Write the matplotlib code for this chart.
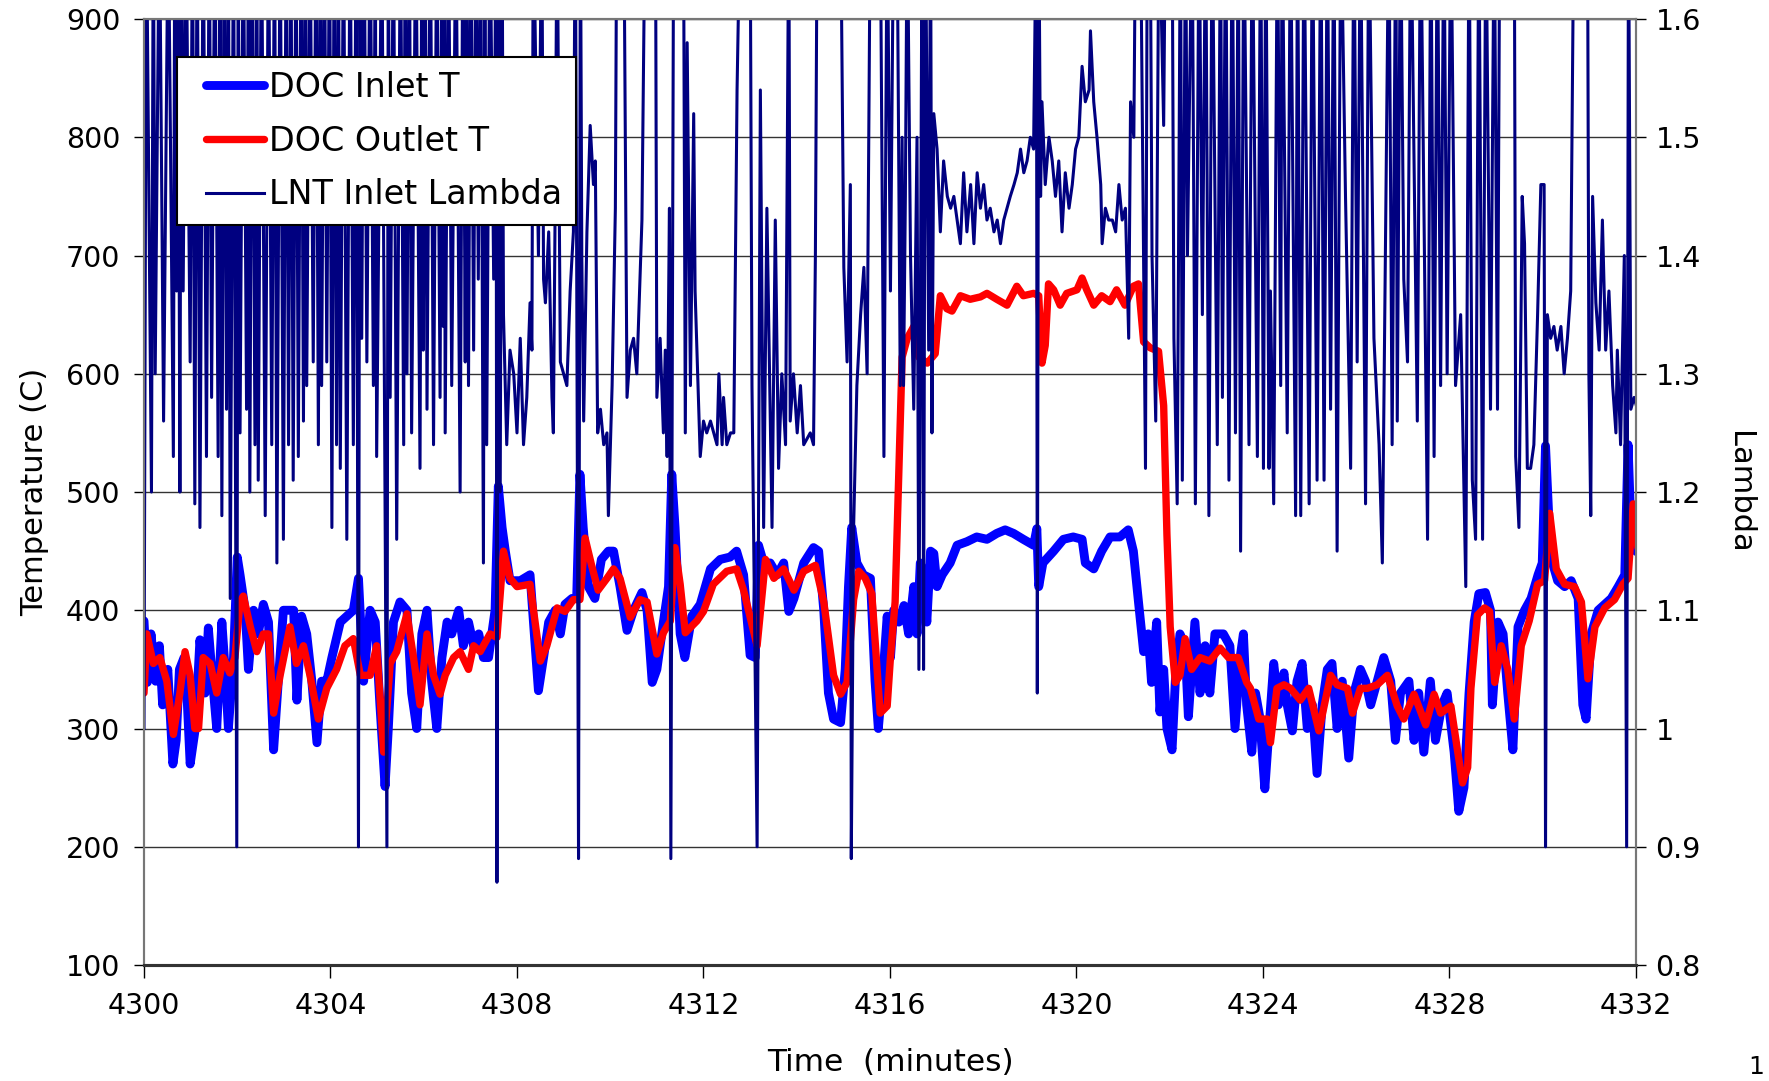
"""DOC inlet/outlet temperature and LNT inlet lambda vs time (twin y axes)."""
import numpy as np
import matplotlib
matplotlib.use("Agg")
import matplotlib.pyplot as plt
import matplotlib.ticker as ticker
from matplotlib.legend_handler import HandlerLine2D

plt.rcParams.update({
    "font.family": ["DejaVu Sans"],
    "font.size": 20.5,
})

T0 = 4300  # minutes; series times below are minutes after T0

# DOC inlet temperature (minutes after T0, deg C)
doc_inlet = [
    (0.00, 391), (0.07, 339), (0.15, 380), (0.25, 340), (0.33, 370), (0.40, 320), (0.51, 350), (0.62, 270),
    (0.69, 290), (0.76, 350), (0.86, 360), (0.92, 330), (0.99, 270), (1.10, 300), (1.20, 375), (1.31, 330),
    (1.38, 385), (1.45, 350), (1.56, 300), (1.67, 390), (1.74, 350), (1.81, 300), (1.92, 360), (2.00, 445),
    (2.06, 430), (2.17, 400), (2.24, 350), (2.35, 400), (2.45, 380), (2.56, 405), (2.67, 390), (2.78, 282),
    (2.88, 340), (2.99, 400), (3.10, 400), (3.21, 400), (3.28, 324), (3.38, 395), (3.49, 380), (3.60, 340),
    (3.71, 288), (3.81, 340), (3.92, 340), (4.03, 360), (4.21, 390), (4.35, 395), (4.49, 400), (4.60, 427),
    (4.71, 340), (4.85, 400), (4.96, 390), (5.06, 320), (5.17, 251), (5.24, 300), (5.35, 390), (5.49, 407),
    (5.64, 400), (5.74, 330), (5.85, 300), (5.96, 380), (6.07, 400), (6.17, 340), (6.28, 300), (6.39, 360),
    (6.50, 390), (6.60, 380), (6.75, 400), (6.85, 370), (6.96, 390), (7.07, 370), (7.18, 380), (7.28, 360),
    (7.39, 360), (7.46, 380), (7.53, 400), (7.60, 505), (7.68, 470), (7.75, 450), (7.85, 425), (8.07, 425),
    (8.28, 430), (8.39, 370), (8.46, 332), (8.57, 360), (8.68, 390), (8.82, 400), (8.93, 380), (9.03, 405),
    (9.18, 410), (9.28, 410), (9.35, 515), (9.42, 470), (9.53, 420), (9.67, 410), (9.81, 443), (9.96, 450),
    (10.07, 450), (10.21, 420), (10.36, 383), (10.50, 400), (10.68, 415), (10.79, 400), (10.90, 339), (11.00, 350),
    (11.14, 390), (11.25, 420), (11.32, 515), (11.39, 470), (11.50, 380), (11.60, 360), (11.75, 395), (11.93, 405),
    (12.15, 435), (12.36, 443), (12.57, 445), (12.71, 450), (12.86, 430), (13.00, 362), (13.11, 360), (13.18, 455),
    (13.29, 440), (13.43, 440), (13.58, 430), (13.72, 440), (13.83, 399), (13.94, 410), (14.15, 440), (14.36, 453),
    (14.47, 450), (14.58, 400), (14.68, 330), (14.79, 308), (14.94, 305), (15.04, 350), (15.11, 420), (15.18, 470),
    (15.29, 440), (15.43, 430), (15.58, 427), (15.68, 340), (15.75, 300), (15.86, 350), (15.94, 395), (16.01, 360),
    (16.08, 400), (16.19, 390), (16.30, 404), (16.40, 380), (16.51, 420), (16.58, 380), (16.65, 440), (16.72, 430),
    (16.79, 390), (16.87, 450), (16.94, 448), (17.01, 420), (17.12, 430), (17.29, 440), (17.44, 455), (17.65, 458),
    (17.86, 462), (18.08, 460), (18.29, 465), (18.47, 468), (18.65, 465), (18.86, 460), (19.08, 455), (19.15, 469),
    (19.19, 420), (19.28, 440), (19.51, 450), (19.72, 460), (19.93, 462), (20.12, 460), (20.19, 440), (20.37, 435),
    (20.54, 450), (20.72, 462), (20.93, 462), (21.11, 468), (21.22, 450), (21.33, 407), (21.44, 365), (21.54, 380),
    (21.61, 339), (21.72, 390), (21.79, 314), (21.87, 350), (21.94, 300), (22.05, 282), (22.12, 340), (22.22, 380),
    (22.33, 370), (22.40, 310), (22.54, 390), (22.65, 330), (22.76, 370), (22.86, 330), (22.97, 380), (23.15, 380),
    (23.29, 370), (23.40, 300), (23.51, 360), (23.58, 380), (23.65, 320), (23.76, 280), (23.84, 330), (23.93, 310),
    (24.04, 249), (24.13, 300), (24.23, 355), (24.33, 320), (24.45, 347), (24.52, 320), (24.63, 298), (24.73, 340),
    (24.84, 355), (24.95, 300), (25.06, 320), (25.16, 262), (25.27, 320), (25.38, 350), (25.48, 355), (25.59, 300),
    (25.70, 340), (25.84, 275), (25.95, 330), (26.09, 350), (26.20, 340), (26.31, 320), (26.45, 340), (26.59, 360),
    (26.74, 340), (26.84, 290), (26.95, 330), (27.13, 340), (27.24, 290), (27.34, 330), (27.45, 280), (27.59, 340),
    (27.70, 290), (27.84, 320), (27.95, 330), (28.10, 280), (28.20, 230), (28.31, 250), (28.42, 330), (28.53, 390),
    (28.63, 414), (28.77, 415), (28.88, 400), (28.92, 320), (29.04, 390), (29.15, 380), (29.25, 330), (29.36, 282),
    (29.47, 386), (29.61, 400), (29.75, 410), (29.90, 430), (29.99, 440), (30.06, 539), (30.14, 470), (30.21, 440),
    (30.32, 425), (30.47, 420), (30.61, 425), (30.76, 410), (30.86, 320), (30.93, 308), (31.04, 380), (31.19, 400),
    (31.33, 405), (31.47, 410), (31.62, 420), (31.76, 430), (31.83, 540), (31.90, 460), (32.00, 450), (32.19, 445),
]

# DOC outlet temperature (minutes after T0, deg C)
doc_outlet = [
    (0.00, 330), (0.06, 380), (0.20, 355), (0.34, 360), (0.49, 340), (0.63, 295), (0.77, 330), (0.88, 365),
    (0.99, 345), (1.09, 300), (1.17, 300), (1.27, 360), (1.42, 355), (1.56, 330), (1.70, 360), (1.84, 347),
    (1.95, 360), (2.06, 407), (2.13, 412), (2.28, 386), (2.42, 365), (2.56, 380), (2.67, 380), (2.78, 313),
    (2.92, 345), (3.13, 386), (3.27, 355), (3.42, 370), (3.56, 345), (3.74, 308), (3.92, 334), (4.13, 350),
    (4.31, 370), (4.49, 376), (4.64, 345), (4.85, 345), (4.99, 370), (5.14, 280), (5.28, 355), (5.42, 365),
    (5.64, 397), (5.78, 360), (5.92, 320), (6.07, 380), (6.21, 345), (6.35, 329), (6.46, 345), (6.64, 360),
    (6.78, 365), (6.96, 350), (7.07, 370), (7.21, 365), (7.42, 380), (7.57, 377), (7.71, 450), (7.85, 427),
    (8.00, 420), (8.28, 422), (8.50, 357), (8.64, 370), (8.86, 402), (9.03, 399), (9.21, 409), (9.35, 409),
    (9.46, 461), (9.60, 438), (9.74, 417), (9.93, 427), (10.07, 435), (10.21, 427), (10.43, 394), (10.64, 409),
    (10.79, 407), (11.00, 363), (11.14, 381), (11.29, 391), (11.39, 453), (11.50, 422), (11.61, 381), (11.86, 391),
    (12.00, 399), (12.21, 422), (12.50, 433), (12.71, 435), (12.86, 417), (13.15, 370), (13.33, 443), (13.51, 427),
    (13.72, 435), (13.94, 417), (14.15, 433), (14.40, 438), (14.58, 407), (14.79, 345), (14.94, 329), (15.08, 339),
    (15.22, 409), (15.33, 433), (15.47, 427), (15.61, 414), (15.79, 313), (15.94, 319), (16.01, 360), (16.11, 407),
    (16.19, 516), (16.26, 614), (16.37, 630), (16.51, 640), (16.62, 614), (16.80, 609), (16.97, 617), (17.08, 666),
    (17.22, 655), (17.33, 653), (17.51, 666), (17.72, 663), (17.94, 665), (18.08, 668), (18.29, 663), (18.51, 658),
    (18.72, 674), (18.86, 666), (19.08, 668), (19.19, 666), (19.26, 609), (19.33, 624), (19.40, 676), (19.51, 671),
    (19.65, 658), (19.79, 668), (20.01, 671), (20.12, 681), (20.22, 671), (20.37, 658), (20.54, 666), (20.72, 661),
    (20.86, 671), (21.04, 658), (21.22, 674), (21.33, 676), (21.44, 627), (21.58, 622), (21.76, 619), (21.87, 573),
    (21.94, 464), (22.01, 386), (22.12, 339), (22.22, 345), (22.33, 376), (22.47, 350), (22.65, 360), (22.86, 357),
    (23.08, 368), (23.26, 360), (23.47, 360), (23.65, 339), (23.73, 334), (23.91, 308), (24.09, 308), (24.16, 288),
    (24.30, 334), (24.45, 337), (24.59, 334), (24.80, 324), (24.98, 334), (25.20, 298), (25.45, 345), (25.59, 337),
    (25.81, 334), (25.92, 313), (26.09, 334), (26.24, 334), (26.45, 337), (26.67, 345), (26.88, 319), (27.02, 308),
    (27.24, 329), (27.49, 303), (27.67, 329), (27.81, 313), (28.03, 319), (28.17, 282), (28.28, 254), (28.39, 267),
    (28.46, 334), (28.60, 396), (28.75, 402), (28.86, 399), (28.97, 339), (29.11, 370), (29.25, 350), (29.39, 308),
    (29.54, 370), (29.71, 391), (29.89, 422), (30.04, 425), (30.15, 482), (30.29, 435), (30.47, 422), (30.68, 420),
    (30.83, 407), (30.97, 342), (31.12, 386), (31.33, 402), (31.54, 409), (31.72, 422), (31.83, 427), (31.94, 490),
    (32.04, 453), (32.19, 443),
]

# LNT inlet lambda (minutes after T0, lambda); 1.70 means above the top of the scale
lambda_part1 = [
    (0.00, 1.00), (0.05, 1.70), (0.16, 1.20), (0.20, 1.70), (0.24, 1.30), (0.33, 1.70), (0.42, 1.26), (0.52, 1.70),
    (0.63, 1.23), (0.66, 1.70), (0.70, 1.37), (0.73, 1.70), (0.77, 1.20), (0.80, 1.70), (0.84, 1.37), (0.90, 1.70),
    (0.99, 1.31), (1.04, 1.70), (1.09, 1.19), (1.14, 1.70), (1.20, 1.17), (1.27, 1.70), (1.34, 1.23), (1.40, 1.70),
    (1.45, 1.28), (1.52, 1.70), (1.59, 1.23), (1.63, 1.70), (1.67, 1.18), (1.72, 1.70), (1.77, 1.27), (1.81, 1.70),
    (1.85, 1.11), (1.92, 1.70), (1.99, 0.90), (2.02, 1.70), (2.06, 1.25), (2.13, 1.70), (2.20, 1.27), (2.24, 1.70),
    (2.27, 1.20), (2.32, 1.70), (2.38, 1.24), (2.42, 1.70), (2.45, 1.21), (2.52, 1.70), (2.60, 1.18), (2.67, 1.70),
    (2.74, 1.24), (2.80, 1.70), (2.85, 1.14), (2.92, 1.70), (2.99, 1.16), (3.05, 1.70), (3.10, 1.24), (3.15, 1.70),
    (3.20, 1.21), (3.26, 1.70), (3.31, 1.23), (3.37, 1.70), (3.42, 1.26), (3.46, 1.70), (3.49, 1.29), (3.56, 1.70),
    (3.63, 1.31), (3.69, 1.70), (3.74, 1.24), (3.78, 1.70), (3.81, 1.29), (3.87, 1.70), (3.92, 1.31), (3.98, 1.70),
    (4.03, 1.17), (4.08, 1.70), (4.13, 1.24), (4.17, 1.70), (4.21, 1.22), (4.28, 1.70), (4.35, 1.16), (4.42, 1.70),
    (4.49, 1.24), (4.55, 1.70), (4.60, 0.90), (4.63, 1.70), (4.67, 1.33), (4.72, 1.70), (4.78, 1.31), (4.85, 1.70),
    (4.92, 1.29), (4.96, 1.70), (4.99, 1.23), (5.10, 1.70), (5.21, 0.90), (5.24, 1.70), (5.28, 1.28), (5.35, 1.70),
    (5.42, 1.16), (5.50, 1.70), (5.57, 1.24), (5.60, 1.70), (5.64, 1.30), (5.69, 1.70), (5.74, 1.25), (5.83, 1.70),
    (5.92, 1.22), (5.96, 1.70), (5.99, 1.32), (6.03, 1.70), (6.07, 1.27), (6.14, 1.70), (6.21, 1.24), (6.28, 1.70),
    (6.35, 1.28), (6.39, 1.70), (6.42, 1.34), (6.44, 1.70), (6.46, 1.25), (6.53, 1.70), (6.60, 1.29), (6.69, 1.70),
    (6.78, 1.20), (6.84, 1.70), (6.89, 1.31), (6.92, 1.70), (6.96, 1.29), (7.01, 1.70), (7.07, 1.32), (7.12, 1.70),
    (7.17, 1.38), (7.22, 1.70), (7.28, 1.14), (7.31, 1.70), (7.35, 1.24), (7.42, 1.70), (7.50, 1.38), (7.55, 1.70),
    (7.57, 0.87), (7.60, 1.70), (7.64, 1.20), (7.68, 1.70), (7.71, 1.35), (7.78, 1.24), (7.85, 1.32), (7.93, 1.30),
    (8.00, 1.25),
]
lambda_part2 = [
    (8.07, 1.33), (8.14, 1.24), (8.21, 1.28), (8.28, 1.36), (8.32, 1.32), (8.35, 1.70), (8.46, 1.40), (8.53, 1.70),
    (8.57, 1.38), (8.61, 1.36), (8.68, 1.42), (8.75, 1.28), (8.78, 1.25), (8.82, 1.45), (8.86, 1.70), (8.93, 1.31),
    (9.00, 1.30), (9.07, 1.29), (9.14, 1.37), (9.21, 1.42), (9.25, 1.70), (9.28, 1.40), (9.32, 0.89), (9.36, 1.70),
    (9.39, 1.40), (9.43, 1.26), (9.50, 1.42), (9.57, 1.51), (9.64, 1.46), (9.68, 1.48), (9.73, 1.25), (9.79, 1.27),
    (9.86, 1.24), (9.93, 1.25), (9.96, 1.18), (10.04, 1.29), (10.11, 1.44), (10.14, 1.70), (10.29, 1.70), (10.36, 1.28),
    (10.43, 1.32), (10.50, 1.33), (10.57, 1.30), (10.68, 1.43), (10.75, 1.70), (10.97, 1.70), (11.00, 1.28), (11.07, 1.33),
    (11.14, 1.25), (11.18, 1.32), (11.22, 1.23), (11.27, 1.44), (11.30, 0.89), (11.36, 1.70), (11.57, 1.70), (11.61, 1.25),
    (11.65, 1.58), (11.72, 1.29), (11.79, 1.52), (11.82, 1.37), (11.86, 1.32), (11.93, 1.23), (12.00, 1.26), (12.07, 1.25),
    (12.15, 1.26), (12.22, 1.25), (12.29, 1.24), (12.33, 1.30), (12.40, 1.24), (12.43, 1.28), (12.50, 1.24), (12.58, 1.25),
    (12.65, 1.25), (12.72, 1.54), (12.79, 1.70), (13.00, 1.70), (13.04, 1.29), (13.15, 0.90), (13.22, 1.54), (13.29, 1.17),
    (13.36, 1.44), (13.47, 1.17), (13.54, 1.43), (13.61, 1.22), (13.68, 1.30), (13.76, 1.24), (13.83, 1.70), (13.86, 1.26),
    (13.93, 1.30), (14.01, 1.25), (14.08, 1.29), (14.15, 1.24), (14.29, 1.25), (14.36, 1.24), (14.40, 1.40), (14.44, 1.70),
    (14.94, 1.70), (15.01, 1.39), (15.08, 1.31), (15.15, 1.46), (15.17, 0.89), (15.22, 1.17), (15.29, 1.29), (15.37, 1.35),
    (15.44, 1.39), (15.51, 1.30), (15.58, 1.70), (15.79, 1.70), (15.87, 1.23), (15.94, 1.70),
]
lambda_part3 = [
    (16.01, 1.37), (16.08, 1.70), (16.15, 1.70), (16.22, 1.29), (16.26, 1.50), (16.29, 1.29), (16.33, 1.45), (16.37, 1.70),
    (16.44, 1.40), (16.51, 1.27), (16.58, 1.50), (16.62, 1.05), (16.69, 1.70), (16.72, 1.05), (16.76, 1.70), (16.83, 1.32),
    (16.87, 1.70), (16.90, 1.25), (16.94, 1.52), (17.01, 1.49), (17.08, 1.42), (17.15, 1.48), (17.23, 1.45), (17.30, 1.44),
    (17.37, 1.45), (17.44, 1.43), (17.51, 1.41), (17.58, 1.47), (17.65, 1.42), (17.73, 1.46), (17.80, 1.41), (17.87, 1.47),
    (17.94, 1.44), (18.01, 1.46), (18.08, 1.43), (18.15, 1.44), (18.23, 1.42), (18.30, 1.43), (18.37, 1.41), (18.44, 1.43),
    (18.51, 1.44), (18.58, 1.45), (18.66, 1.46), (18.73, 1.47), (18.80, 1.49), (18.87, 1.47), (18.94, 1.48), (19.01, 1.50),
    (19.08, 1.49), (19.14, 1.70), (19.16, 1.03), (19.19, 1.70), (19.23, 1.45), (19.26, 1.53), (19.33, 1.46), (19.41, 1.50),
    (19.48, 1.48), (19.55, 1.45), (19.62, 1.48), (19.69, 1.42), (19.76, 1.47), (19.84, 1.44), (19.91, 1.46), (19.98, 1.49),
    (20.05, 1.50), (20.12, 1.56), (20.19, 1.53), (20.27, 1.54), (20.30, 1.59), (20.37, 1.53), (20.44, 1.50), (20.52, 1.46),
    (20.55, 1.41), (20.62, 1.44), (20.69, 1.43), (20.77, 1.43), (20.84, 1.42), (20.91, 1.46), (20.98, 1.43), (21.05, 1.44),
    (21.12, 1.33), (21.16, 1.53), (21.23, 1.50), (21.27, 1.70), (21.37, 1.70), (21.48, 1.22), (21.52, 1.70), (21.58, 1.70),
    (21.62, 1.40), (21.70, 1.26), (21.77, 1.70), (21.87, 1.51), (21.91, 1.70), (22.05, 1.70), (22.09, 1.33), (22.16, 1.19),
    (22.23, 1.70), (22.27, 1.21), (22.34, 1.70), (22.38, 1.40), (22.48, 1.70), (22.55, 1.19), (22.63, 1.70), (22.70, 1.35),
    (22.77, 1.70), (22.84, 1.18), (22.91, 1.70), (23.02, 1.24), (23.09, 1.70), (23.13, 1.28), (23.20, 1.70), (23.27, 1.21),
    (23.34, 1.70), (23.41, 1.25), (23.47, 1.70), (23.52, 1.15), (23.59, 1.70), (23.70, 1.24), (23.77, 1.70), (23.88, 1.23),
    (23.95, 1.70),
]
lambda_part4 = [
    (24.01, 1.22), (24.06, 1.70), (24.13, 1.22), (24.16, 1.37), (24.23, 1.19), (24.31, 1.70), (24.38, 1.29), (24.41, 1.70),
    (24.52, 1.25), (24.59, 1.70), (24.70, 1.18), (24.74, 1.70), (24.81, 1.18), (24.88, 1.70), (24.99, 1.19), (25.06, 1.70),
    (25.16, 1.21), (25.24, 1.70), (25.31, 1.21), (25.38, 1.70), (25.45, 1.27), (25.52, 1.70), (25.59, 1.15), (25.67, 1.70),
    (25.77, 1.45), (25.88, 1.22), (25.95, 1.70), (26.02, 1.31), (26.09, 1.70), (26.20, 1.19), (26.27, 1.70), (26.38, 1.33),
    (26.49, 1.24), (26.56, 1.14), (26.63, 1.42), (26.70, 1.70), (26.77, 1.24), (26.85, 1.70), (26.88, 1.26), (26.95, 1.70),
    (27.02, 1.38), (27.10, 1.31), (27.17, 1.70), (27.31, 1.26), (27.38, 1.70), (27.53, 1.16), (27.60, 1.70), (27.67, 1.23),
    (27.74, 1.70), (27.81, 1.29), (27.88, 1.70), (27.95, 1.30), (28.03, 1.70), (28.13, 1.29), (28.24, 1.35), (28.35, 1.12),
    (28.42, 1.70), (28.49, 1.21), (28.56, 1.16), (28.63, 1.70), (28.71, 1.16), (28.78, 1.70), (28.88, 1.27), (28.96, 1.70),
    (29.03, 1.27), (29.08, 1.70), (29.39, 1.70), (29.42, 1.23), (29.49, 1.17), (29.56, 1.45), (29.61, 1.41), (29.67, 1.22),
    (29.74, 1.22), (29.81, 1.24), (29.89, 1.35), (29.96, 1.46), (30.03, 1.46), (30.06, 0.90), (30.10, 1.35), (30.17, 1.33),
    (30.24, 1.34), (30.31, 1.32), (30.39, 1.34), (30.46, 1.30), (30.53, 1.33), (30.60, 1.37), (30.67, 1.70), (30.96, 1.70),
    (30.99, 1.30), (31.03, 1.18), (31.07, 1.45), (31.14, 1.36), (31.21, 1.32), (31.28, 1.43), (31.35, 1.32), (31.42, 1.37),
    (31.50, 1.29), (31.57, 1.25), (31.60, 1.32), (31.67, 1.24), (31.75, 1.40), (31.80, 0.90), (31.84, 1.70), (31.89, 1.27),
    (31.96, 1.28), (32.03, 1.27),
]

time_ticks = [4300, 4304, 4308, 4312, 4316, 4320, 4324, 4328, 4332]
temp_ticks = [100, 200, 300, 400, 500, 600, 700, 800, 900]
lambda_ticks = [0.8, 0.9, 1.0, 1.1, 1.2, 1.3, 1.4, 1.5, 1.6]


def split(pairs):
    arr = np.array(pairs, dtype=float)
    return T0 + arr[:, 0], arr[:, 1]


t_in, temp_in = split(doc_inlet)
t_out, temp_out = split(doc_outlet)
t_lam, lam = split(lambda_part1 + lambda_part2 + lambda_part3 + lambda_part4)

fig = plt.figure(figsize=(17.69, 10.81), dpi=100)
ax = fig.add_axes([0.0814, 0.1073, 0.8434, 0.8751])
ax2 = ax.twinx()

ln_in, = ax.plot(t_in, temp_in, color="#0000FF", lw=6.4,
                 solid_capstyle="round", solid_joinstyle="round", label="DOC Inlet T")
ln_out, = ax.plot(t_out, temp_out, color="#FF0000", lw=5.3,
                  solid_capstyle="round", solid_joinstyle="round", label="DOC Outlet T")
ln_lam, = ax2.plot(t_lam, lam, color="#000080", lw=2.2,
                   solid_joinstyle="round", label="LNT Inlet Lambda")

ax.set_xlim(4300, 4332)
ax.set_ylim(100, 900)
ax2.set_ylim(0.8, 1.6)
ax.set_xticks(time_ticks)
ax.set_yticks(temp_ticks)
ax2.set_yticks(lambda_ticks)
ax2.yaxis.set_major_formatter(ticker.FuncFormatter(lambda v, p: f"{v:g}"))

ax.grid(axis="y", color="#333333", linewidth=1.0)
ax.grid(axis="x", visible=False)
ax.set_axisbelow(True)

ax.tick_params(axis="x", direction="out", length=9.4, width=1.0, pad=10, labelsize=20.5)
ax.tick_params(axis="y", direction="out", length=7, width=1.0, pad=10, labelsize=20.5)
ax2.tick_params(axis="y", direction="out", length=7, width=1.0, pad=7, labelsize=20.5)

for a in (ax, ax2):
    a.spines["bottom"].set_color("#333333")
    a.spines["bottom"].set_linewidth(2.2)
    for side in ("left", "right", "top"):
        a.spines[side].set_color("#777777")
        a.spines[side].set_linewidth(1.5)

ax.set_xlabel("Time  (minutes)", fontsize=22.5)
ax.xaxis.label.set_verticalalignment("center")
ax.xaxis.set_label_coords(0.5, -0.103)

ax.set_ylabel("Temperature (C)", fontsize=22)
ax.yaxis.label.set_rotation_mode("default")
ax.yaxis.label.set_verticalalignment("center")
ax.yaxis.set_label_coords(-0.073, 0.5)

ax2.set_ylabel("Lambda", fontsize=22, rotation=-90)
ax2.yaxis.label.set_rotation_mode("default")
ax2.yaxis.label.set_verticalalignment("center")
ax2.yaxis.set_label_coords(1.0697, 0.5)

inset_handle = HandlerLine2D(xpad=0.45)
leg = ax2.legend([ln_in, ln_out, ln_lam],
                 ["DOC Inlet T", "DOC Outlet T", "LNT Inlet Lambda"],
                 loc="upper left", bbox_to_anchor=(0.022, 0.960), borderaxespad=0,
                 frameon=True, fancybox=False, framealpha=1, edgecolor="black",
                 fontsize=24, handlelength=2.2, handletextpad=0.15,
                 labelspacing=0.62, borderpad=0.42,
                 handler_map={ln_in: inset_handle, ln_out: inset_handle, ln_lam: inset_handle})
leg.get_frame().set_linewidth(1.5)
leg.set_zorder(10)

# stray page number at the lower right corner
fig.text(0.997, 0.002, "1", fontsize=18, ha="right", va="bottom")

fig.savefig("out.png", dpi=100)
